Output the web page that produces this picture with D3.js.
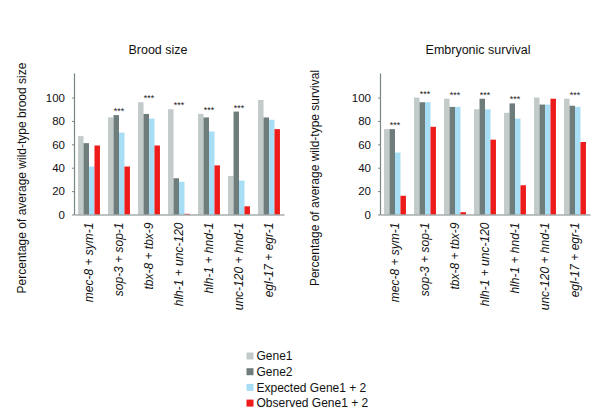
<!DOCTYPE html>
<html><head><meta charset="utf-8">
<script src="https://cdn.jsdelivr.net/npm/d3@7"></script>
<style>body{margin:0;background:#fff}svg{display:block;font-family:"Liberation Sans",Arial,sans-serif}</style>
</head><body><svg id="c" width="600" height="415"></svg>
<script>
const categories = ["mec-8 + sym-1","sop-3 + sop-1","tbx-8 + tbx-9","hlh-1 + unc-120","hlh-1 + hnd-1","unc-120 + hnd-1","egl-17 + egr-1"];
const seriesNames = ["Gene1","Gene2","Expected Gene1 + 2","Observed Gene1 + 2"];
const seriesColors = ["#c3caca","#6e7c7c","#a8ddf6","#ee1b1b"];
const yTicks = [0,20,40,60,80,100];

// Brood size
const broodGene1 = [67,83,96,90,86,33,98];
const broodGene2 = [61,85,86,31,83,88,83];
const broodExpected = [41,70,82,28,71,29,81];
const broodObserved = [59,41,59,0.6,42,7,73];
const broodStars = [false,true,true,true,true,true,false];

// Embryonic survival
const survGene1 = [73,100,99,90,87,100,99];
const survGene2 = [73,96,92,99,95,94,93];
const survExpected = [53,96,92,90,82,94,92];
const survObserved = [16,75,2,64,25,99,62];
const survStars = [true,true,true,true,true,false,true];

const svg = d3.select("#c");

function panel(opts){
  const {x0,x1,y0,yTop,title,titleX,ylabel,ylabelX,data,stars} = opts;
  const g = svg.append("g");
  const x = d3.scaleBand().domain(categories).range([x0,x1]).paddingInner(0.27).paddingOuter(0.135);
  const xs = d3.scaleBand().domain(d3.range(4)).range([0,x.bandwidth()]);
  const y = d3.scaleLinear().domain([0,121]).range([y0,yTop]);

  // bars
  categories.forEach((c,i)=>{
    data.forEach((arr,s)=>{
      g.append("rect")
        .attr("x", x(c)+xs(s))
        .attr("y", y(arr[i]))
        .attr("width", xs.bandwidth())
        .attr("height", y(0)-y(arr[i]))
        .attr("fill", seriesColors[s]);
    });
    if(stars[i]){
      const mx = d3.max(data, a=>a[i]);
      g.append("text").attr("x", x(c)+x.bandwidth()/2).attr("y", y(mx)-1)
        .attr("text-anchor","middle").attr("font-size",9).attr("fill","#222").text("***");
    }
  });

  // y axis
  const ya = g.append("g").attr("transform",`translate(${x0},0)`)
    .call(d3.axisLeft(y).tickValues(yTicks).tickSize(2).tickPadding(7).tickSizeOuter(0));
  ya.select(".domain").attr("stroke","#7a8585").attr("stroke-width",1.2);
  ya.selectAll(".tick line").attr("stroke","#7a8585");
  ya.selectAll(".tick text").attr("font-size",11.5).attr("fill","#111").attr("font-family","Liberation Sans, Arial, sans-serif");

  // x axis
  const xa = g.append("g").attr("transform",`translate(0,${y0})`)
    .call(d3.axisBottom(x).tickSize(0).tickSizeOuter(0).tickFormat(""));
  xa.select(".domain").attr("stroke","#7a8585").attr("stroke-width",1.2);
  categories.forEach(c=>{
    g.append("text")
      .attr("transform",`translate(${x(c)+x.bandwidth()/2+4},${y0+8}) rotate(-90)`)
      .attr("text-anchor","end").attr("font-size",12).attr("font-style","italic").attr("fill","#111")
      .text(c);
  });

  g.append("text").attr("x",titleX).attr("y",54).attr("text-anchor","middle")
    .attr("font-size",12.5).attr("fill","#111").text(title);
  g.append("text").attr("transform",`translate(${ylabelX},${178}) rotate(-90)`)
    .attr("text-anchor","middle").attr("font-size",12).attr("fill","#111").text(ylabel);
}

panel({x0:74,x1:284,y0:214.5,yTop:73,title:"Brood size",titleX:158,
  ylabel:"Percentage of average wild-type brood size",ylabelX:26,
  data:[broodGene1,broodGene2,broodExpected,broodObserved],stars:broodStars});
panel({x0:380,x1:590,y0:214.5,yTop:73,title:"Embryonic survival",titleX:478,
  ylabel:"Percentage of average wild-type survival",ylabelX:319,
  data:[survGene1,survGene2,survExpected,survObserved],stars:survStars});

// legend
const leg = svg.append("g");
seriesNames.forEach((n,i)=>{
  const yy = 356 + i*15.7;
  leg.append("rect").attr("x",246.5).attr("y",yy-3.5).attr("width",7).attr("height",7).attr("fill",seriesColors[i]);
  leg.append("text").attr("x",256.5).attr("y",yy+4.2).attr("font-size",12).attr("fill","#111").text(n);
});
</script></body></html>
